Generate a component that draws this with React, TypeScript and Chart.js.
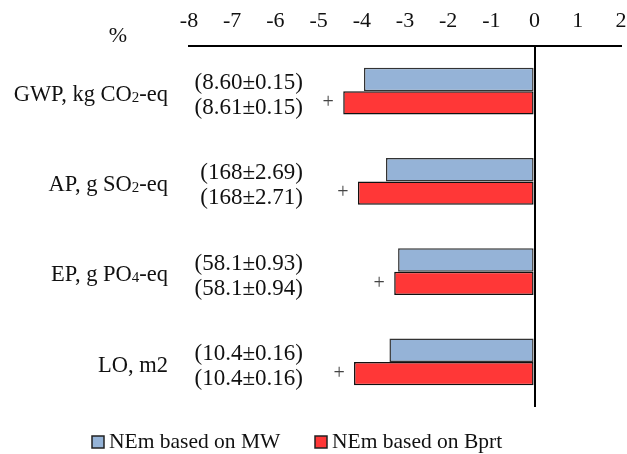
import React, { useEffect, useRef } from 'react';
import { Chart, registerables } from 'chart.js';

Chart.register(...registerables);

const categories = ['GWP, kg CO₂-eq', 'AP, g SO₂-eq', 'EP, g PO₄-eq', 'LO, m2'];
const mwValues = [-3.95, -3.44, -3.16, -3.36];
const bprtValues = [-4.43, -4.09, -3.25, -4.18];
const mwAbsolute = ['(8.60±0.15)', '(168±2.69)', '(58.1±0.93)', '(10.4±0.16)'];
const bprtAbsolute = ['(8.61±0.15)', '(168±2.71)', '(58.1±0.94)', '(10.4±0.16)'];
const markers = ['+', '+', '+', '+'];
const seriesNames = ['NEm based on MW', 'NEm based on Bprt'];
const unitLabel = '%';
const xMin = -8;
const xMax = 2;

const FONT = "'Liberation Serif', 'Times New Roman', serif";
const BLUE = '#95B3D7';
const RED = '#FF3737';
const SUBS: Record<string, string> = { '₂': '2', '₄': '4' };

function drawRich(ctx: CanvasRenderingContext2D, text: string, xRight: number, y: number, size: number) {
  const segs: { t: string; sub: boolean }[] = [];
  for (const ch of text) {
    const sub = ch in SUBS;
    const t = sub ? SUBS[ch] : ch;
    const last = segs[segs.length - 1];
    if (last && last.sub === sub) last.t += t;
    else segs.push({ t, sub });
  }
  const subSize = Math.round(size * 0.65);
  let total = 0;
  const widths = segs.map((s) => {
    ctx.font = `${s.sub ? subSize : size}px ${FONT}`;
    const w = ctx.measureText(s.t).width;
    total += w;
    return w;
  });
  let x = xRight - total;
  ctx.textAlign = 'left';
  ctx.textBaseline = 'alphabetic';
  const base = y + size * 0.34;
  segs.forEach((s, i) => {
    ctx.font = `${s.sub ? subSize : size}px ${FONT}`;
    ctx.fillText(s.t, x, s.sub ? base + size * 0.05 : base);
    x += widths[i];
  });
}

const annotatePlugin = {
  id: 'annotate',
  afterDraw(chart: any) {
    const ctx: CanvasRenderingContext2D = chart.ctx;
    const yScale = chart.scales.y;
    ctx.save();
    ctx.fillStyle = '#111';
    categories.forEach((c, i) => {
      const cy = yScale.getPixelForValue(i);
      drawRich(ctx, c, 168, cy + 2, 22.5);
      ctx.font = `23px ${FONT}`;
      ctx.textAlign = 'right';
      ctx.textBaseline = 'middle';
      ctx.fillText(mwAbsolute[i], 303, cy - 8);
      ctx.fillText(bprtAbsolute[i], 303, cy + 17);
    });
    // significance markers next to red bars
    const meta = chart.getDatasetMeta(1);
    ctx.fillStyle = '#444';
    ctx.font = `20px ${FONT}`;
    ctx.textAlign = 'center';
    ctx.textBaseline = 'middle';
    meta.data.forEach((bar: any, i: number) => {
      ctx.fillText(markers[i], bar.x - 15, bar.y);
    });
    // unit label
    ctx.fillStyle = '#111';
    ctx.font = `22px ${FONT}`;
    ctx.fillText(unitLabel, 118, 36);
    // legend
    const ly = 442;
    const items = [
      { x: 92, color: BLUE, text: seriesNames[0] },
      { x: 315, color: RED, text: seriesNames[1] },
    ];
    items.forEach((it) => {
      ctx.fillStyle = it.color;
      ctx.fillRect(it.x, ly - 6, 12, 12);
      ctx.strokeStyle = '#222';
      ctx.lineWidth = 1.5;
      ctx.strokeRect(it.x, ly - 6, 12, 12);
      ctx.fillStyle = '#111';
      ctx.font = `21.5px ${FONT}`;
      ctx.textAlign = 'left';
      ctx.textBaseline = 'middle';
      ctx.fillText(it.text, it.x + 17, ly);
    });
    ctx.restore();
  },
};

export default function App() {
  const ref = useRef<HTMLCanvasElement>(null);
  useEffect(() => {
    if (!ref.current) return;
    const chart = new Chart(ref.current, {
      type: 'bar',
      data: {
        labels: categories,
        datasets: [
          {
            label: seriesNames[0],
            data: mwValues,
            backgroundColor: BLUE,
            borderColor: '#333',
            borderWidth: 1.5,
            borderSkipped: false,
            barPercentage: 1,
            categoryPercentage: 0.52,
          },
          {
            label: seriesNames[1],
            data: bprtValues,
            backgroundColor: RED,
            borderColor: '#111',
            borderWidth: 1.5,
            borderSkipped: false,
            barPercentage: 1,
            categoryPercentage: 0.52,
          },
        ],
      },
      options: {
        indexAxis: 'y',
        responsive: false,
        devicePixelRatio: 1,
        animation: false,
        layout: { padding: { left: 189, right: 6, top: 0, bottom: 47 } },
        plugins: { legend: { display: false }, tooltip: { enabled: false } },
        scales: {
          x: {
            position: 'top',
            min: xMin,
            max: xMax,
            afterFit: (scale: any) => {
              scale.height = 46;
              scale.paddingLeft = 0;
              scale.paddingRight = 0;
            },
            ticks: {
              stepSize: 1,
              padding: 12,
              color: '#111',
              font: { family: FONT, size: 22 },
            },
            grid: {
              drawTicks: false,
              color: (c: any) => (c.tick && c.tick.value === 0 ? '#000' : 'rgba(0,0,0,0)'),
              lineWidth: 2,
            },
            border: { display: true, color: '#000', width: 2 },
          },
          y: {
            display: false,
          },
        },
      },
      plugins: [annotatePlugin],
    });
    return () => chart.destroy();
  }, []);
  return (
    <div style={{ position: 'fixed', left: 0, top: 0, width: 627, height: 454, background: '#fff' }}>
      <canvas ref={ref} width={627} height={454} style={{ display: 'block', width: 627, height: 454 }} />
    </div>
  );
}
